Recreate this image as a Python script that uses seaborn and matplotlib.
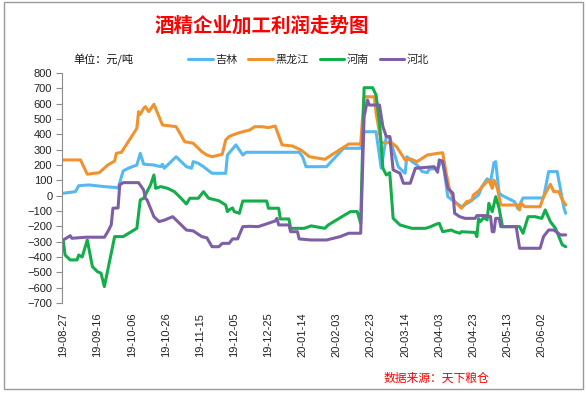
import pandas as pd
import matplotlib.pyplot as plt
import matplotlib.dates as mdates
from matplotlib.lines import Line2D
from matplotlib.patches import Rectangle
import seaborn as sns

# 日期用距 2019-08-27 的天数表示
start = pd.Timestamp('2019-08-27')

jl_day = [0, 7, 9, 15, 24, 31, 32, 35, 38, 43, 45, 47, 53, 57, 58, 59, 62, 66, 72, 75,
          76, 79, 82, 87, 95, 96, 101, 105, 107, 138, 140, 142, 154, 164, 174, 176, 183, 186, 189, 191,
          193, 196, 200, 201, 204, 207, 210, 213, 214, 219, 222, 225, 233, 238, 243, 245, 248, 250, 252, 253,
          255, 257, 264, 266, 269, 281, 284, 289, 293, 294]
jl_val = [16, 26, 65, 70, 59, 53, 48, 161, 179, 200, 276, 205, 200, 189, 205, 179, 211, 254, 189, 179,
          222, 211, 189, 146, 146, 265, 331, 265, 283, 283, 254, 189, 189, 309, 309, 417, 417, 180, 385, 385,
          300, 189, 146, 254, 222, 200, 157, 150, 172, 179, 233, -7, -72, -39, 5, 59, 110, 90, 215, 222,
          16, 0, -39, -85, -15, -15, 157, 157, -82, -115]

hlj_day = [0, 10, 14, 21, 26, 30, 31, 34, 43, 44, 45, 47, 48, 50, 53, 56, 58, 66, 71, 76,
           81, 84, 87, 93, 95, 97, 98, 102, 105, 109, 112, 116, 120, 124, 128, 134, 139, 144, 153, 160,
           167, 174, 176, 182, 183, 186, 192, 195, 200, 203, 207, 213, 219, 222, 224, 226, 229, 233, 236, 239,
           240, 243, 246, 249, 251, 252, 254, 256, 266, 267, 268, 270, 279, 281, 285, 287, 290, 292, 294]
hlj_val = [233, 233, 140, 150, 200, 226, 276, 283, 439, 548, 530, 570, 580, 548, 596, 515, 461, 450, 352, 342,
           287, 265, 254, 270, 363, 385, 391, 407, 417, 428, 450, 450, 444, 454, 331, 324, 298, 254, 237, 287,
           337, 337, 645, 645, 540, 345, 345, 320, 233, 240, 222, 265, 276, 280, 150, 40, -39, -82, -39, -30,
           5, 30, 70, 102, 48, 102, 48, -61, -61, -93, -50, -72, -72, -7, 74, 26, 26, -28, -61]

hn_day = [0, 1, 4, 8, 9, 11, 14, 17, 20, 22, 24, 30, 35, 43, 45, 47, 51, 53, 54, 57,
          61, 65, 68, 72, 74, 79, 82, 85, 91, 95, 96, 97, 99, 100, 103, 105, 119, 120, 126, 127,
          132, 133, 141, 145, 153, 155, 168, 172, 174, 176, 181, 183, 185, 187, 189, 191, 193, 197, 204, 212,
          215, 218, 220, 222, 227, 229, 232, 233, 241, 242, 243, 244, 246, 248, 249, 251, 253, 255, 257, 267,
          269, 272, 276, 280, 282, 285, 288, 292, 294]
hn_val = [-300, -387, -419, -419, -387, -400, -289, -463, -496, -505, -593, -267, -267, -213, -28, -17, 70, 135, 48, 59,
          48, 26, -7, -54, -17, -17, 26, -17, -33, -61, -104, -93, -80, -104, -115, -35, -35, -82, -82, -152,
          -152, -213, -213, -197, -213, -191, -104, -104, -180, 704, 704, 656, 483, 179, 135, 150, -148, -191, -213, -213,
          -202, -187, -180, -235, -224, -235, -245, -235, -240, -267, -150, -169, -143, -158, -50, -104, -7, -82, -202, -202,
          -245, -137, -137, -148, -93, -169, -213, -321, -333]

hb_day = [0, 4, 5, 13, 24, 26, 28, 29, 32, 33, 35, 44, 47, 48, 49, 53, 56, 59, 64, 69,
          72, 76, 81, 84, 87, 91, 93, 97, 99, 102, 105, 109, 114, 120, 124, 125, 126, 132, 133, 137,
          138, 145, 154, 162, 167, 174, 175, 176, 178, 179, 185, 187, 189, 191, 193, 197, 199, 203, 206, 217,
          219, 220, 222, 225, 228, 229, 232, 235, 241, 242, 247, 250, 251, 252, 253, 255, 256, 265, 267, 279,
          281, 284, 287, 291, 294]
hb_val = [-289, -261, -278, -271, -271, -235, -191, -82, -80, 70, 85, 85, 37, -17, -28, -137, -169, -160, -137, -191,
          -224, -230, -267, -275, -333, -333, -311, -311, -282, -282, -202, -200, -202, -180, -165, -148, -191, -191, -235, -235,
          -282, -289, -289, -267, -245, -245, 135, 515, 624, 591, 591, 450, 385, 385, 168, 146, 81, 81, 179, 189,
          153, 233, 222, 48, 16, -115, -137, -148, -148, -130, -130, -137, -235, -235, -148, -148, -202, -202, -343, -343,
          -267, -224, -224, -256, -256]

names = ['吉林', '黑龙江', '河南', '河北']
colors = ['#55B9F1', '#F0922E', '#13AE4B', '#7E5FA6']

frames = []
for name, d, v in zip(names, [jl_day, hlj_day, hn_day, hb_day], [jl_val, hlj_val, hn_val, hb_val]):
    frames.append(pd.DataFrame({'日期': start + pd.to_timedelta(d, unit='D'), '利润': v, '地区': name}))
df = pd.concat(frames, ignore_index=True)

sns.set_style('white')
plt.rcParams['font.family'] = ['Liberation Sans', 'Noto Sans CJK SC', 'DejaVu Sans']

fig = plt.figure(figsize=(5.86, 3.95), dpi=100)
ax = fig.add_axes([62 / 586, 1 - 303 / 395, 508 / 586, 230 / 395])

sns.lineplot(data=df, x='日期', y='利润', hue='地区', hue_order=names, palette=colors,
             estimator=None, sort=False, lw=2.2, legend=False, ax=ax)

ax.set_ylim(-700, 800)
ax.set_yticks(range(-700, 801, 100))
ax.set_xlim(start - pd.Timedelta(days=0.8), start + pd.Timedelta(days=296.5))
ax.set_xticks(pd.date_range('2019-08-27', '2020-06-02', freq='20D'))
ax.xaxis.set_major_formatter(mdates.DateFormatter('%y-%m-%d'))
ax.set_xlabel('')
ax.set_ylabel('')

for s in ['top', 'right', 'bottom']:
    ax.spines[s].set_visible(False)
ax.spines['left'].set_color('#8c8c8c')
ax.tick_params(axis='y', left=True, length=4, width=0.8, color='#8c8c8c', pad=3,
               labelsize=8, labelcolor='#222222')
ax.tick_params(axis='x', length=0, pad=7, labelsize=8, labelcolor='#222222', rotation=90)

# 标题、单位、图例、来源
fig.text(261.5 / 586, 1 - 26 / 395, '酒精企业加工利润走势图', ha='center', va='center',
         fontsize=14, fontweight='bold', color='#FF0000', family=['Noto Sans CJK SC'])
fig.text(73 / 586, 1 - 60 / 395, '单位：元/吨', ha='left', va='center', fontsize=8,
         color='#111111', family=['Noto Sans CJK SC'])

handles = [Line2D([0], [0], color=c, lw=2.2) for c in colors]
fig.legend(handles, names, loc='center', bbox_to_anchor=(308.5 / 586, 1 - 60 / 395), ncol=4,
           frameon=False, handlelength=2.2, handletextpad=0.2, columnspacing=1.0,
           prop={'family': 'Noto Sans CJK SC', 'size': 8})

fig.text(489 / 586, 1 - 378 / 395, '数据来源：天下粮仓', ha='right', va='center', fontsize=8.5,
         color='#FF0000', style='italic', family=['Noto Sans CJK SC'])

# 外框
fig.patches.append(Rectangle((4 / 586, 1 - 389 / 395), 579 / 586, 387 / 395,
                             transform=fig.transFigure, fill=False, ec='#9a9a9a', lw=1))

fig.savefig('out.png', dpi=100)
